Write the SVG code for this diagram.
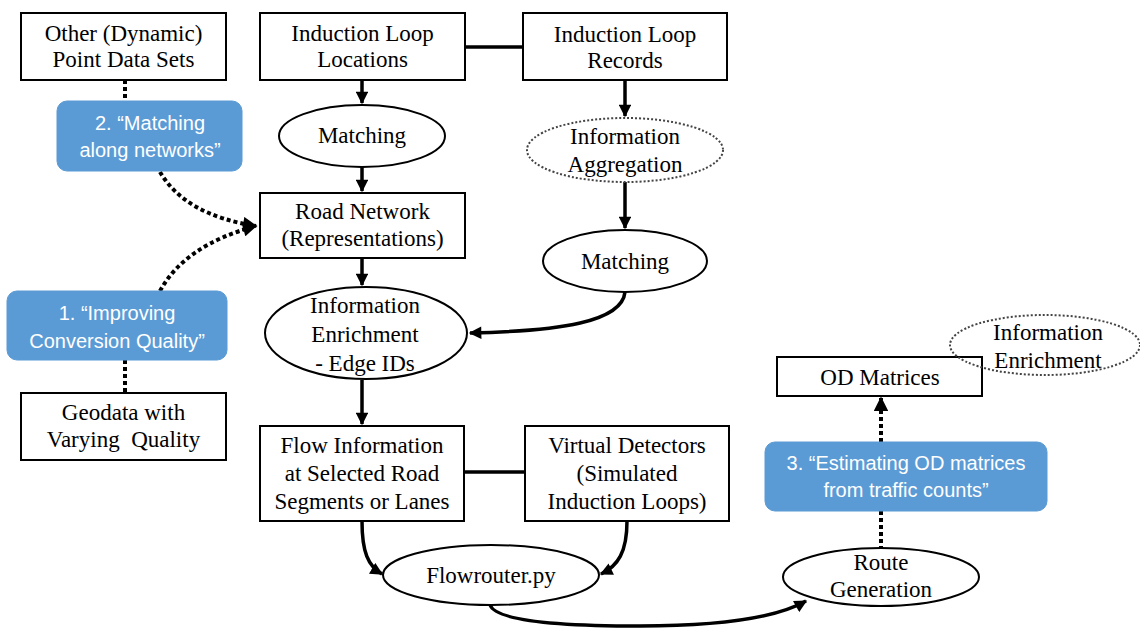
<svg xmlns="http://www.w3.org/2000/svg" width="1140" height="628" viewBox="0 0 1140 628">
<style>
.box{fill:#fff;stroke:#000;stroke-width:2}
.ell{fill:#fff;stroke:#000;stroke-width:2}
.dell{fill:none;stroke:#444;stroke-width:2;stroke-dasharray:2 2}
.blue{fill:#5B9BD5;stroke:#5B9BD5}
.t{font-family:"Liberation Serif","Times New Roman",serif;font-size:23px;fill:#000;text-anchor:middle}
.bt{font-family:"Liberation Sans",Arial,sans-serif;font-size:20px;fill:#fff;text-anchor:middle}
.c{fill:none;stroke:#000;stroke-width:3.5}
.d{fill:none;stroke:#000;stroke-width:4;stroke-dasharray:4 3}
</style>
<defs>
<marker id="a" viewBox="0 0 10 10" refX="9" refY="5" markerWidth="3.8" markerHeight="3.6" orient="auto" markerUnits="strokeWidth">
<path d="M0 0L10 5L0 10z" fill="#000"/>
</marker>
</defs>
<g id="connectors">
<line class="c" x1="465" y1="47" x2="523" y2="47"/>
<line class="c" x1="464" y1="472" x2="525" y2="472"/>
<line class="c" x1="362" y1="80" x2="362" y2="103" marker-end="url(#a)"/>
<line class="c" x1="362" y1="167" x2="362" y2="191" marker-end="url(#a)"/>
<line class="c" x1="362" y1="258" x2="362" y2="285" marker-end="url(#a)"/>
<line class="c" x1="362" y1="380" x2="362" y2="424" marker-end="url(#a)"/>
<line class="c" x1="625" y1="80" x2="625" y2="116" marker-end="url(#a)"/>
<line class="c" x1="625" y1="182" x2="625" y2="228" marker-end="url(#a)"/>
<path class="c" d="M625 292 C622 322 560 331 470 333" marker-end="url(#a)"/>
<path class="c" d="M362 521 C362 552 368 566 382 574" marker-end="url(#a)"/>
<path class="c" d="M627 521 C627 552 618 566 601 574" marker-end="url(#a)"/>
<path class="c" d="M490 605 Q498 626 640 626 Q762 626 806 601" marker-end="url(#a)"/>
<line class="d" x1="125" y1="80" x2="125" y2="101"/>
<path class="d" d="M160 172 Q185 215 256 226" marker-end="url(#a)"/>
<path class="d" d="M160 291 Q185 245 256 226" marker-end="url(#a)"/>
<line class="d" x1="125" y1="360" x2="125" y2="393"/>
<line class="d" x1="881" y1="442" x2="881" y2="398" marker-end="url(#a)"/>
<line class="d" x1="881" y1="511" x2="881" y2="548"/>
</g>
<g id="other"><rect class="box" x="21" y="13" width="205" height="67"/><text class="t" x="123.5" y="41">Other (Dynamic)</text><text class="t" x="123.5" y="67">Point Data Sets</text></g>
<g id="locations"><rect class="box" x="260" y="13" width="205" height="67"/><text class="t" x="362.5" y="41">Induction Loop</text><text class="t" x="362.5" y="67">Locations</text></g>
<g id="records"><rect class="box" x="523" y="13" width="204" height="67"/><text class="t" x="625" y="42">Induction Loop</text><text class="t" x="625" y="68">Records</text></g>
<g id="matching1"><ellipse class="ell" cx="362" cy="136" rx="83" ry="31"/><text class="t" x="362" y="143">Matching</text></g>
<g id="aggregation"><ellipse class="dell" cx="625" cy="150" rx="98" ry="32"/><text class="t" x="625" y="144">Information</text><text class="t" x="625" y="172">Aggregation</text></g>
<g id="matching2"><ellipse class="ell" cx="625" cy="261" rx="82" ry="31"/><text class="t" x="625" y="269">Matching</text></g>
<g id="blue2"><rect class="blue" x="57" y="101" width="185" height="70" rx="10"/><text class="bt" x="150" y="130">2. “Matching</text><text class="bt" x="150" y="157">along networks”</text></g>
<g id="road"><rect class="box" x="260" y="193" width="205" height="65"/><text class="t" x="362.5" y="219">Road Network</text><text class="t" x="362.5" y="246">(Representations)</text></g>
<g id="blue1"><rect class="blue" x="7" y="291" width="220" height="69" rx="10"/><text class="bt" x="117" y="320">1. “Improving</text><text class="bt" x="117" y="348">Conversion Quality”</text></g>
<g id="enrichment"><ellipse class="ell" cx="366" cy="333" rx="101" ry="46"/><text class="t" x="365" y="313">Information</text><text class="t" x="365" y="342">Enrichment</text><text class="t" x="365" y="371">- Edge IDs</text></g>
<g id="geodata"><rect class="box" x="21" y="393" width="205" height="67"/><text class="t" x="123.5" y="420">Geodata with</text><text class="t" x="123.5" y="447" xml:space="preserve">Varying  Quality</text></g>
<g id="flow"><rect class="box" x="260" y="426" width="204" height="95"/><text class="t" x="362" y="453">Flow Information</text><text class="t" x="362" y="481">at Selected Road</text><text class="t" x="362" y="509">Segments or Lanes</text></g>
<g id="virtual"><rect class="box" x="525" y="426" width="204" height="95"/><text class="t" x="627" y="453">Virtual Detectors</text><text class="t" x="627" y="481">(Simulated</text><text class="t" x="627" y="509">Induction Loops)</text></g>
<g id="flowrouter"><ellipse class="ell" cx="491" cy="575" rx="108" ry="30"/><text class="t" x="491" y="583">Flowrouter.py</text></g>
<g id="route"><ellipse class="ell" cx="881" cy="577" rx="98" ry="29"/><text class="t" x="881" y="570">Route</text><text class="t" x="881" y="597">Generation</text></g>
<g id="od"><rect class="box" x="777" y="357" width="205" height="39"/><text class="t" x="880" y="385">OD Matrices</text></g>
<g id="enrichment2"><ellipse class="dell" cx="1045" cy="345" rx="95" ry="30"/><text class="t" x="1048" y="340">Information</text><text class="t" x="1048" y="368">Enrichment</text></g>
<g id="blue3"><rect class="blue" x="765" y="442" width="282" height="69" rx="10"/><text class="bt" x="906" y="470">3. “Estimating OD matrices</text><text class="bt" x="906" y="497">from traffic counts”</text></g>
</svg>
